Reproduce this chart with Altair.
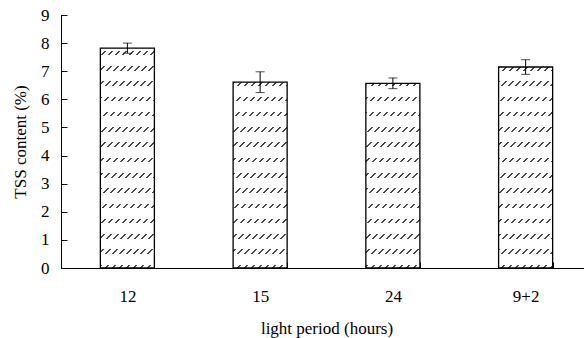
import altair as alt
import pandas as pd

# ---- data ----
periods = ["12", "15", "24", "9+2"]
tss = [7.82, 6.61, 6.57, 7.15]
sd = [0.18, 0.37, 0.19, 0.26]

df = pd.DataFrame({"period": periods, "tss": tss, "sd": sd})
df["lo"] = df["tss"] - df["sd"]
df["hi"] = df["tss"] + df["sd"]

# ---- layout / style ----
W, H = 523, 253          # visible plot area
RANGE = 531              # x range (plot continues past the right edge, as in the reference)
YMAX = 9
PAD_IN = 0.593
FONT = "Liberation Serif"
FS = 17

BAR_W = RANGE / len(periods) * (1 - PAD_IN)
PX_PER = H / YMAX
ROW_P, ROW_T, ROW_PHASE = 15.29, 4.6, 1.0   # hatch rows (px)
DASH_P, DASH_T = 7.0, 2.2                   # diagonal dashes (px, measured along x+y)
DASH_COL = "#4a4a4a"
CLEAR = "rgba(255,255,255,0)"

x_axis = alt.Axis(
    title="light period (hours)", offset=-6, domain=False,
    tickSize=6, tickColor="black", tickWidth=1, tickBand="extent",
    labelFont=FONT, labelFontSize=FS, labelColor="black", labelAngle=0,
    labelPadding=20, titleFont=FONT, titleFontSize=FS, titleFontWeight="normal",
    titleColor="black", titleBaseline="alphabetic", titleY=71, grid=False,
)
y_axis = alt.Axis(
    title="TSS content (%)", offset=-6, domain=False, values=list(range(0, 10)),
    tickSize=6, tickColor="black", tickWidth=1,
    labelFont=FONT, labelFontSize=FS, labelColor="black", labelPadding=12,
    titleFont=FONT, titleFontSize=FS, titleFontWeight="normal", titleColor="black",
    titleAngle=270, titleBaseline="alphabetic", titleX=-42, titleY=H / 2, grid=False,
)
x_scale = alt.Scale(range=[0, RANGE], paddingInner=PAD_IN, paddingOuter=PAD_IN / 2)
y_scale = alt.Scale(domain=[0, YMAX], nice=False)


def X():
    return alt.X("period:N", sort=periods, scale=x_scale, axis=x_axis)


def Y(field):
    return alt.Y(f"{field}:Q", scale=y_scale, axis=y_axis)


def stripes_gradient(hb):
    """diagonal dashes, coloured where a dash is, clear elsewhere"""
    tot = BAR_W + hb
    lam = tot / (BAR_W ** 2 + hb ** 2)
    stops = []
    s = 0.0
    while s < tot:
        a, b = s / tot, min(s + DASH_T, tot) / tot
        stops += [{"offset": a, "color": DASH_COL}, {"offset": b, "color": DASH_COL},
                  {"offset": b, "color": CLEAR}]
        s += DASH_P
        stops.append({"offset": min(s, tot) / tot, "color": CLEAR})
    return {"gradient": "linear", "x1": 0, "y1": 0, "x2": lam * BAR_W, "y2": lam * hb,
            "stops": stops}


def rows_gradient(hb):
    """white mask with clear horizontal rows (anchored at the baseline)"""
    bands = []
    k = 0
    while True:
        d = ROW_PHASE + k * ROW_P
        lo_d, hi_d = max(0.0, d - ROW_T / 2), min(hb, d + ROW_T / 2)
        if lo_d >= hb:
            break
        bands.append((1 - hi_d / hb, 1 - lo_d / hb))
        k += 1
    bands.sort()
    stops = [{"offset": 0, "color": "white"}]
    for t, b in bands:
        stops += [{"offset": t, "color": "white"}, {"offset": t, "color": CLEAR},
                  {"offset": b, "color": CLEAR}, {"offset": b, "color": "white"}]
    stops.append({"offset": 1, "color": "white"})
    return {"gradient": "linear", "x1": 0, "y1": 0, "x2": 0, "y2": 1, "stops": stops}


layers = []
for p, v in zip(periods, tss):
    hb = v * PX_PER
    base = alt.Chart(df).transform_filter(alt.datum.period == p)
    layers.append(base.mark_bar(fill=stripes_gradient(hb), strokeWidth=0)
                  .encode(x=X(), y=Y("tss")))
    layers.append(base.mark_bar(fill=rows_gradient(hb), strokeWidth=0)
                  .encode(x=X(), y=Y("tss")))

outline = alt.Chart(df).mark_bar(fillOpacity=0, stroke="black", strokeWidth=1.3).encode(
    x=X(), y=Y("tss"))
err_rule = alt.Chart(df).mark_rule(color="black", strokeWidth=1).encode(
    x=X(), y=Y("lo"), y2="hi:Q")
cap_lo = alt.Chart(df).mark_tick(color="black", size=9, thickness=1).encode(
    x=X(), y=Y("lo"))
cap_hi = alt.Chart(df).mark_tick(color="black", size=9, thickness=1).encode(
    x=X(), y=Y("hi"))

one = pd.DataFrame({"k": [0]})
y_line = alt.Chart(one).mark_rule(color="black", strokeWidth=1).encode(
    x=alt.value(0.5), y=alt.value(0), y2=alt.value(H))
x_line = alt.Chart(one).mark_rule(color="black", strokeWidth=1).encode(
    x=alt.value(0), x2=alt.value(RANGE), y=alt.value(H + 0.5))

chart = alt.layer(*layers, outline, err_rule, cap_lo, cap_hi, y_line, x_line).properties(
    width=W, height=H,
    autosize=alt.AutoSizeParams(type="none"),
    padding={"left": 61, "top": 15, "right": 0, "bottom": 338 - 15 - H},
    background="white",
).configure_view(stroke=None)

chart.save("out.html", embed_options={"renderer": "svg", "actions": False})
